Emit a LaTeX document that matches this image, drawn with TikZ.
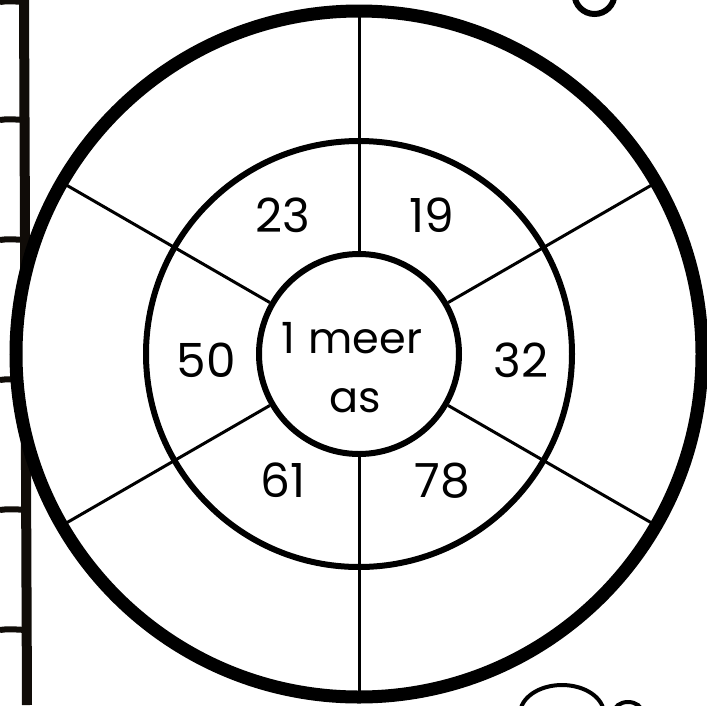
\documentclass[tikz,border=0pt]{standalone}
\usepackage{fontspec}
\setmainfont{Poppins}
\usetikzlibrary{calc}
\definecolor{rulerbrown}{HTML}{100C08}
\tikzset{
  ring/.style={draw=black, line width=#1},
  spoke/.style={draw=black, line width=3pt},
  num/.style={anchor=base, font=\fontsize{47}{50}\selectfont, inner sep=0pt},
  rulerline/.style={draw=rulerbrown, line width=#1},
}
\begin{document}
\begin{tikzpicture}[x=1pt,y=-1pt]
\useasboundingbox (0,0) rectangle (707,705);
\begin{scope}
\clip (0,0) rectangle (707,705);
% ruler on the left
\coordinate (rt) at (24,0);
\coordinate (rb) at (27,705);
\draw[rulerline=10pt] (rt) -- (rb);
\foreach \y/\e in {2/24,120/24,240/25,380/25,510/30,630/26}{
  \draw[rulerline=6pt] (0,\y) .. controls (8,\y-1) .. (\e,\y);
}
% decorative partial shapes
\coordinate (loopc) at (594.5,-6);
\draw[line width=6pt] (loopc) circle[radius=20];
\coordinate (cloudc) at (562,714);
\draw[line width=4pt] (cloudc) ellipse[x radius=42, y radius=29];
\coordinate (cloud2) at (628,712);
\draw[line width=4pt] (cloud2) ellipse[x radius=14, y radius=10];
\end{scope}
% circles
\coordinate (c) at (359,354);
\fill[white] (c) circle[radius=343];
\draw[ring=13pt] (c) circle[radius=343];
\draw[ring=6pt] (c) circle[radius=213];
\node[circle, draw=black, line width=6pt, minimum size=200pt, inner sep=0pt] (inner) at (c) {};
% spokes
\foreach \a in {90,270,30,150,210,330}{
  \draw[spoke] ($(c)+(\a:-103)$) -- ($(c)+(\a:-339)$);
}
% labels
\node[num] (n23) at (283,232) {23};
\node[num] (n19) at (432,232) {19};
\node[num] (n50) at (206,377) {50};
\node[num] (n32) at (521,377) {32};
\node[num] (n61) at (283,497) {61};
\node[num] (n78) at (442,497) {78};
\node[num, font=\fontsize{43}{46}\selectfont] (t1) at (352,353) {1\hspace{0.3em}meer};
\node[num, font=\fontsize{43}{46}\selectfont] (t2) at (355,412) {as};
\end{tikzpicture}
\end{document}
